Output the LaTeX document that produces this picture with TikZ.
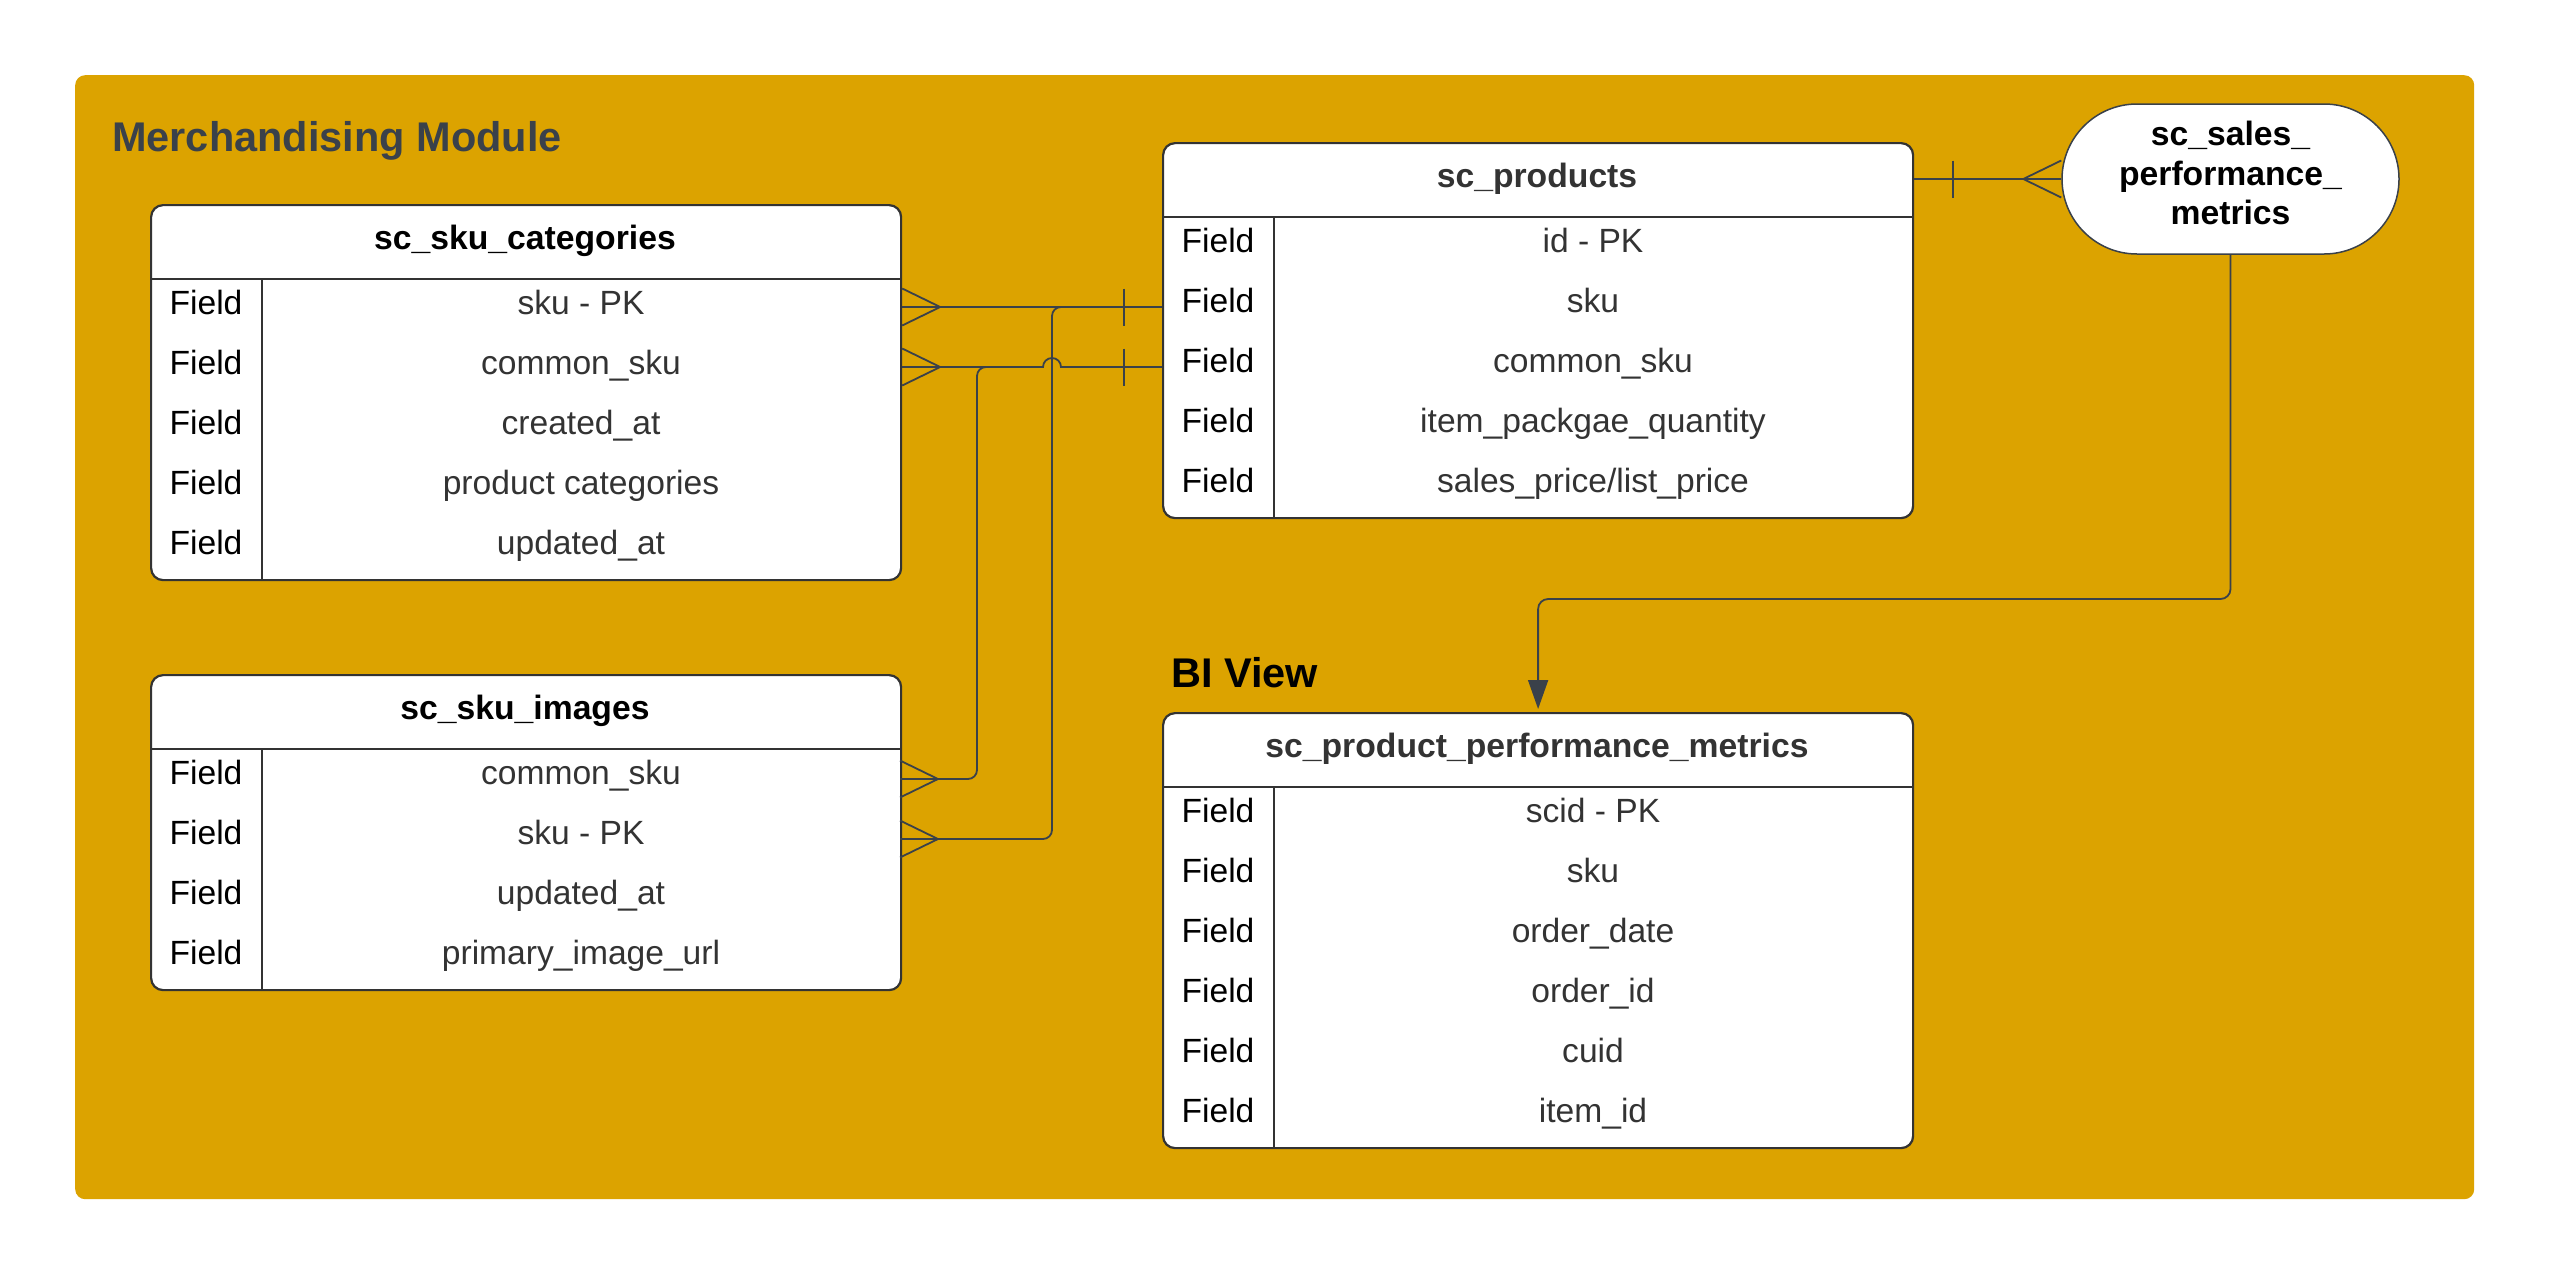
\documentclass[tikz,border=0pt]{standalone}
\usepackage{fontspec}
\setmainfont{Liberation Sans}
\usetikzlibrary{calc,arrows.meta}
\definecolor{ybg}{RGB}{220,163,0}
\definecolor{ink}{HTML}{3A414A}
\definecolor{tline}{HTML}{333333}
\definecolor{ttext}{HTML}{333333}

\tikzset{
  tbox/.style={draw=tline, line width=2.2pt, fill=white, rounded corners=12pt, inner sep=0pt, anchor=north west},
  sepline/.style={draw=tline, line width=1.8pt},
  colline/.style={draw=tline, line width=1.3pt},
  headtxt/.style={anchor=base, inner sep=0pt, font=\fontsize{33.7}{40}\selectfont\bfseries},
  fieldtxt/.style={anchor=base, inner sep=0pt, font=\fontsize{33.6}{40}\selectfont, text=black},
  valtxt/.style={anchor=base, inner sep=0pt, font=\fontsize{33.6}{40}\selectfont, text=ttext},
  conn/.style={draw=ink, line width=1.8pt},
  modtitle/.style={anchor=base west, inner sep=0pt, font=\fontsize{41.5}{48}\selectfont\bfseries},
  stadium/.style={draw=ink, line width=1.5pt, fill=white, rounded corners=75pt, minimum width=337pt, minimum height=150pt, inner sep=0pt},
  stadtxt/.style={inner sep=0pt, align=center, font=\fontsize{33.7}{39.5}\selectfont\bfseries},
}

% #1 name, #2 x, #3 y top, #4 nrows, #5 title, #6 title colour, #7 rows
\newcommand\erdtable[7]{%
  \pgfmathsetmacro\tblh{75+60*#4}
  \node[tbox, minimum width=750pt, minimum height=\tblh pt] (#1) at (#2,#3) {};
  \node[headtxt, text=#6] (#1-h) at (#2+375,#3+45) {#5};
  \draw[sepline] (#2,#3+75) -- (#2+750,#3+75);
  \draw[colline] (#2+112,#3+75) -- (#2+112,#3+\tblh);
  \foreach \rowtxt [count=\i] in {#7} {
    \coordinate (#1-w\i) at (#2,#3+45+60*\i);
    \coordinate (#1-e\i) at (#2+750,#3+45+60*\i);
    \node[fieldtxt] (#1-f\i) at (#2+56,#3+50.5+60*\i) {Field};
    \node[valtxt] (#1-r\i) at (#2+431,#3+50.5+60*\i) {\rowtxt};
  }
}
% crow's foot: #1 coordinate at edge, #2 = +1 apex to the right, -1 apex to the left
\newcommand\crowfoot[2]{%
  \draw[conn] ($(#1)+(0,-18.5)$) -- ($(#1)+({#2*38},0)$) -- ($(#1)+(0,18.5)$);
}
% one-bar: #1 coordinate on the line
\newcommand\onebar[1]{%
  \draw[conn] ($(#1)+(0,-18.5)$) -- ($(#1)+(0,18.5)$);
}

\begin{document}
\begin{tikzpicture}[x=1pt,y=-1pt]
\useasboundingbox (0,0) rectangle (2550,1275);
\fill[white] (0,0) rectangle (2550,1275);

\node[fill=ybg, rounded corners=10pt, minimum width=2399pt, minimum height=1124pt, anchor=north west, inner sep=0pt] (module) at (75,75) {};

\node[modtitle, text=ink] (modt) at (112,151) {Merchandising Module};
\node[modtitle, text=black] (biv) at (1171,687) {BI View};

\erdtable{cat}{150}{204}{5}{sc\_sku\_categories}{black}{sku - PK, common\_sku, created\_at, product categories, updated\_at}
\erdtable{img}{150}{674}{4}{sc\_sku\_images}{black}{common\_sku, sku - PK, updated\_at, primary\_image\_url}
\erdtable{prod}{1162}{142}{5}{sc\_products}{ttext}{id - PK, sku, common\_sku, item\_packgae\_quantity, sales\_price/list\_price}
\erdtable{met}{1162}{712}{6}{sc\_product\_performance\_metrics}{ttext}{scid - PK, sku, order\_date, order\_id, cuid, item\_id}

\node[stadium] (sales) at (2230.5,179) {};
\node[stadtxt] (sales-t) at (2230.5,173) {sc\_sales\_\\performance\_\\metrics};

\coordinate (ux) at (977,0);
\coordinate (vx) at (1052,0);
\coordinate (c1) at (prod-w2 -| cat.east);
\coordinate (c2) at (prod-w3 -| cat.east);

% sku: categories -> products
\draw[conn] (c1) -- (prod-w2);
\crowfoot{c1}{1}
\onebar{$(prod-w2)+(-38,0)$}

% common_sku: categories -> products (with line hop)
\draw[conn] (c2) -- ($(prod-w3 -| vx)+(-9,0)$) arc[start angle=180, end angle=0, radius=9pt] -- (prod-w3);
\crowfoot{c2}{1}
\onebar{$(prod-w3)+(-38,0)$}

% common_sku: images -> joins common_sku line
\draw[conn, rounded corners=9pt] (img-e1) -- (img-e1 -| ux) -- (prod-w3 -| ux) -- ($(prod-w3 -| ux)+(30,0)$);
\crowfoot{img-e1}{1}

% sku: images -> joins sku line
\draw[conn, rounded corners=9pt] (img-e2) -- (img-e2 -| vx) -- (prod-w2 -| vx) -- ($(prod-w2 -| vx)+(30,0)$);
\crowfoot{img-e2}{1}

% products -> sales performance metrics
\coordinate (s1) at (sales.west -| prod.east);
\draw[conn] (s1) -- (sales.west);
\onebar{$(s1)+(38.5,0)$}
\crowfoot{sales.west}{-1}

% sales performance metrics -> product performance metrics
\coordinate (by) at (0,599);
\draw[conn, rounded corners=10pt, shorten >=3pt, -{Triangle[length=29pt, width=20pt, fill=ink]}] (sales.south) -- (sales.south |- by) -- (met.north |- by) -- (met.north);
\end{tikzpicture}
\end{document}
